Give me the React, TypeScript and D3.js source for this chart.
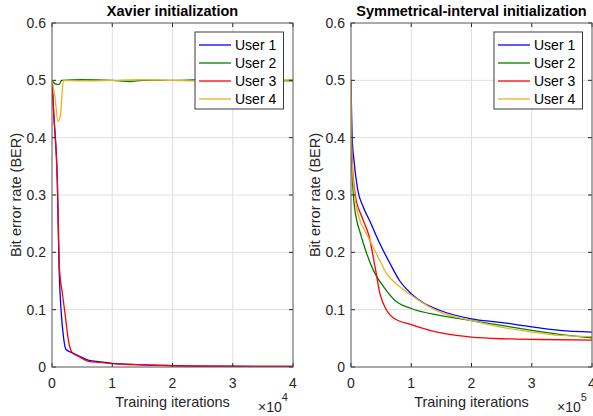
import React from "react";
import * as d3 from "d3";

// values (x in units of the axis exponent)
const users = ["User 1", "User 2", "User 3", "User 4"];
const colors = ["#0000ff", "#008000", "#ff0000", "#edb120"];
const xTicks = [0, 1, 2, 3, 4];
const yTicks = [0, 0.1, 0.2, 0.3, 0.4, 0.5, 0.6];

// Xavier initialization (x10^4)
const xavU1: [number, number][] = [
  [0, 0.5], [0.03, 0.44], [0.088, 0.326], [0.118, 0.17], [0.15, 0.1], [0.19, 0.053],
  [0.23, 0.031], [0.33, 0.025], [0.45, 0.019], [0.6, 0.012], [0.8, 0.009], [1.0, 0.0065],
  [1.4, 0.0042], [2.0, 0.0025], [3.0, 0.0013], [4.0, 0.001],
];
const xavU2: [number, number][] = [
  [0, 0.5], [0.05, 0.494], [0.12, 0.493], [0.16, 0.5], [0.5, 0.501], [1.0, 0.5],
  [1.3, 0.498], [1.5, 0.5], [2.0, 0.5], [2.5, 0.501], [3.0, 0.5], [3.5, 0.5], [4.0, 0.499],
];
const xavU3: [number, number][] = [
  [0, 0.5], [0.03, 0.44], [0.088, 0.326], [0.125, 0.17], [0.17, 0.13], [0.22, 0.09],
  [0.27, 0.048], [0.33, 0.026], [0.45, 0.018], [0.6, 0.01], [0.8, 0.008], [1.0, 0.006],
  [1.4, 0.004], [2.0, 0.0022], [3.0, 0.0012], [4.0, 0.001],
];
const xavU4: [number, number][] = [
  [0, 0.5], [0.05, 0.47], [0.1, 0.428], [0.14, 0.44], [0.19, 0.5], [0.5, 0.499],
  [1.0, 0.5], [1.5, 0.501], [2.0, 0.5], [2.5, 0.499], [3.0, 0.502], [3.5, 0.5], [4.0, 0.501],
];

// Symmetrical-interval initialization (x10^5)
const symU1: [number, number][] = [
  [0, 0.5], [0.02, 0.4], [0.05, 0.36], [0.11, 0.31], [0.2, 0.28], [0.31, 0.255],
  [0.48, 0.215], [0.65, 0.18], [0.81, 0.15], [1.0, 0.128], [1.2, 0.112], [1.47, 0.099],
  [2.0, 0.084], [2.47, 0.078], [3.0, 0.07], [3.46, 0.064], [4.0, 0.061],
];
const symU2: [number, number][] = [
  [0, 0.5], [0.01, 0.37], [0.04, 0.3], [0.095, 0.256], [0.15, 0.235], [0.26, 0.198],
  [0.37, 0.169], [0.54, 0.14], [0.73, 0.116], [1.0, 0.102], [1.47, 0.09], [2.0, 0.081],
  [2.47, 0.073], [3.0, 0.064], [3.46, 0.057], [4.0, 0.051],
];
const symU3: [number, number][] = [
  [0, 0.5], [0.01, 0.38], [0.07, 0.3], [0.18, 0.262], [0.3, 0.228], [0.4, 0.174],
  [0.48, 0.128], [0.59, 0.099], [0.7, 0.086], [1.0, 0.074], [1.31, 0.064], [1.75, 0.055],
  [2.0, 0.052], [2.58, 0.049], [3.13, 0.048], [4.0, 0.047],
];
const symU4: [number, number][] = [
  [0, 0.5], [0.01, 0.38], [0.06, 0.3], [0.13, 0.262], [0.26, 0.232], [0.43, 0.196],
  [0.59, 0.163], [0.81, 0.14], [1.0, 0.125], [1.25, 0.108], [1.47, 0.096], [2.0, 0.081],
  [2.47, 0.07], [3.0, 0.061], [3.46, 0.055], [4.0, 0.053],
];

const font = "'Liberation Sans', Arial, Helvetica, sans-serif";
const ink = "#262626";
const top = 23,
  bottom = 367;

interface PanelProps {
  id: string;
  left: number;
  right: number;
  title: string;
  exponent: string;
  series: [number, number][][];
}

function Panel(props: PanelProps) {
  const { left, right } = props;
  const x = d3.scaleLinear().domain([0, 4]).range([left, right]);
  const y = d3.scaleLinear().domain([0, 0.6]).range([bottom, top]);
  const line = d3
    .line<[number, number]>()
    .x((d) => x(d[0]))
    .y((d) => y(d[1]))
    .curve(d3.curveMonotoneX);
  const cx = (left + right) / 2;
  const legX = right - 98;

  return (
    <g fontFamily={font}>
      <defs>
        <clipPath id={"clip" + props.id}>
          <rect x={left} y={top} width={right - left} height={bottom - top} />
        </clipPath>
      </defs>
      <rect x={left} y={top} width={right - left} height={bottom - top} fill="#fff" />
      {xTicks.slice(1, -1).map((t) => (
        <line key={"gx" + t} x1={x(t)} x2={x(t)} y1={top} y2={bottom} stroke="#dfdfdf" />
      ))}
      {yTicks.slice(1, -1).map((t) => (
        <line key={"gy" + t} x1={left} x2={right} y1={y(t)} y2={y(t)} stroke="#dfdfdf" />
      ))}
      <g clipPath={`url(#clip${props.id})`}>
        {props.series.map((s, i) => (
          <path key={i} d={line(s) || ""} fill="none" stroke={colors[i]} strokeWidth={1.3} />
        ))}
      </g>
      {xTicks.map((t) => (
        <g key={"tx" + t}>
          <line x1={x(t)} x2={x(t)} y1={bottom} y2={bottom - 4} stroke={ink} />
          <line x1={x(t)} x2={x(t)} y1={top} y2={top + 4} stroke={ink} />
          <text x={x(t)} y={388} fontSize={14} fill={ink} textAnchor="middle">
            {t}
          </text>
        </g>
      ))}
      {yTicks.map((t) => (
        <g key={"ty" + t}>
          <line x1={left} x2={left + 4} y1={y(t)} y2={y(t)} stroke={ink} />
          <line x1={right} x2={right - 4} y1={y(t)} y2={y(t)} stroke={ink} />
          <text x={left - 6} y={y(t)} dy="0.36em" fontSize={14} fill={ink} textAnchor="end">
            {t === 0 ? "0" : t.toFixed(1)}
          </text>
        </g>
      ))}
      <rect
        x={left}
        y={top}
        width={right - left}
        height={bottom - top}
        fill="none"
        stroke="#555"
        strokeWidth={1}
      />
      <text x={cx} y={15.5} fontSize={14.5} fontWeight="bold" fill="#000" textAnchor="middle">
        {props.title}
      </text>
      <text x={cx} y={407} fontSize={14.5} fill={ink} textAnchor="middle">
        Training iterations
      </text>
      <text
        transform={`translate(${left - 31.5},${(top + bottom) / 2}) rotate(-90)`}
        fontSize={14.5}
        fill={ink}
        textAnchor="middle"
      >
        Bit error rate (BER)
      </text>
      <text x={right - 35} y={411.5} fontSize={14} fill={ink}>
        ×10
        <tspan dy={-11} fontSize={11}>
          {props.exponent}
        </tspan>
      </text>
      <g>
        <rect x={legX} y={32} width={88.5} height={77} fill="#fff" stroke={ink} strokeWidth={0.9} />
        {users.map((u, i) => (
          <g key={u}>
            <line
              x1={legX + 4}
              x2={legX + 36}
              y1={45 + i * 18}
              y2={45 + i * 18}
              stroke={colors[i]}
              strokeWidth={1.3}
            />
            <text x={legX + 40} y={45 + i * 18} dy="0.36em" fontSize={14} fill="#000">
              {u}
            </text>
          </g>
        ))}
      </g>
    </g>
  );
}

export default function App() {
  return (
    <svg width={593} height={416} style={{ position: "absolute", left: 0, top: 0, background: "#fff" }}>
      <rect width={593} height={416} fill="#fff" />
      <Panel
        id="a"
        left={52}
        right={293}
        title="Xavier initialization"
        exponent="4"
        series={[xavU1, xavU2, xavU3, xavU4]}
      />
      <Panel
        id="b"
        left={351}
        right={592}
        title="Symmetrical-interval initialization"
        exponent="5"
        series={[symU1, symU2, symU3, symU4]}
      />
    </svg>
  );
}
